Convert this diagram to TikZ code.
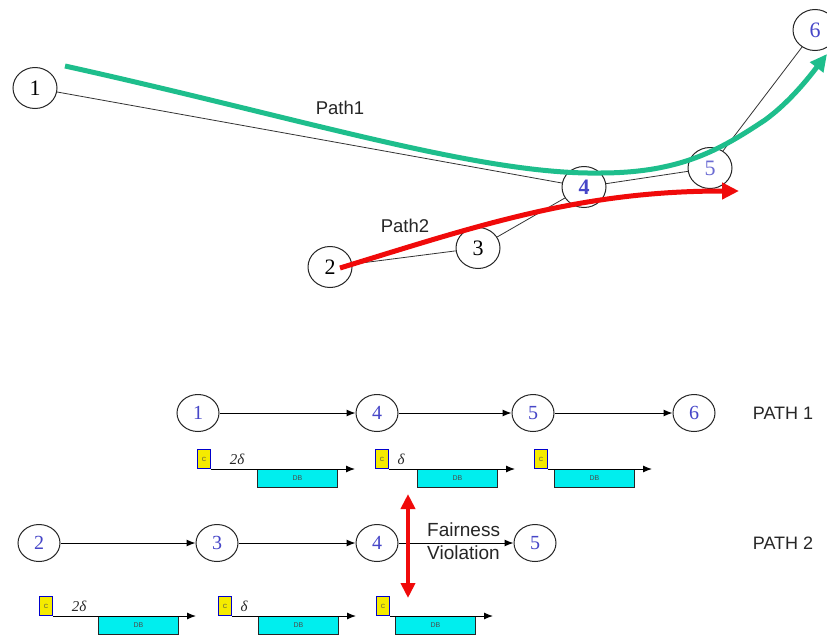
\documentclass[tikz,border=0pt]{standalone}
\usepackage{fontspec}
\setmainfont{Liberation Serif}
\setsansfont{Liberation Sans}
\usetikzlibrary{shapes.geometric,arrows.meta}
\definecolor{pathgreen}{RGB}{30,190,140}
\definecolor{nodeblue}{RGB}{70,70,200}
\definecolor{pktcyan}{RGB}{0,238,238}
\definecolor{pktyellow}{RGB}{245,235,0}
\definecolor{fvred}{RGB}{240,10,10}
\newcommand\pkt[6]{%
  \node[hdr, anchor=south west] (#1h) at (#2,#3) {C};
  \node[body, anchor=north west] (#1b) at ({#2+#4},#3) {DB};
  \coordinate (#1e) at ({#2+#4+98},#3);
  \draw[pktline] (#1h.south east) -- (#1e);
  \node[delay] (#1d) at ({#2+#6},{#3-10}) {#5};
}
\begin{document}
\begin{tikzpicture}[x=1pt,y=-1pt,
  topnode/.style={draw=black!85, ellipse, minimum width=44pt, minimum height=41pt,
    inner sep=0pt, fill=white, line width=1pt, font=\fontsize{22}{22}\selectfont},
  botnode/.style={draw=black!85, ellipse, minimum width=42pt, minimum height=37pt,
    inner sep=0pt, line width=1pt, text=nodeblue, font=\fontsize{20}{20}\selectfont},
  link/.style={draw=black!80, line width=0.8pt},
  hop/.style={draw=black, line width=1pt, -{Latex[length=9pt,width=7pt]}},
  bigpath/.style={line width=5pt, -{Triangle[length=17pt,width=16pt]}},
  pathlabel/.style={font=\sffamily\fontsize{18.5}{22}\selectfont, text=black!85, inner sep=0pt},
  rowlabel/.style={font=\sffamily\fontsize{18}{20}\selectfont, text=black!85, inner sep=0pt},
  hdr/.style={draw=blue!80!black, line width=1pt, fill=pktyellow, minimum width=13pt,
    minimum height=19pt, inner sep=0pt, font=\sffamily\fontsize{6}{6}\selectfont, text=black!70},
  body/.style={draw=black!85, line width=0.9pt, fill=pktcyan, minimum width=80pt,
    minimum height=18pt, inner sep=0pt, font=\sffamily\fontsize{7}{7}\selectfont, text=black!70},
  pktline/.style={draw=black, line width=1pt, -{Latex[length=9pt,width=7pt]}},
  delay/.style={font=\itshape\fontsize{15}{15}\selectfont, text=black!85, inner sep=0pt},
]
\clip (0,0) rectangle (827,635);
\fill[white] (0,0) rectangle (827,635);

% ---------- top topology ----------
\node[topnode] (t1) at (35,88) {1};
\node[topnode] (t2) at (330,267) {2};
\node[topnode] (t3) at (478,248) {3};
\node[topnode, text=nodeblue, font=\bfseries\fontsize{22}{22}\selectfont] (t4) at (584,187) {4};
\node[topnode, text=nodeblue!80] (t5) at (710,168) {5};
\node[topnode, text=nodeblue] (t6) at (815,30) {6};

\draw[link] (t1) -- (t4);
\draw[link] (t4) -- (t5);
\draw[link] (t5) -- (t6);
\draw[link] (t2) -- (t3);
\draw[link] (t3) -- (t4);

\node[pathlabel] (p1lab) at (340,108) {Path1};
\node[pathlabel] (p2lab) at (405,226) {Path2};

\coordinate (gstart) at (65,66);
\coordinate (gmid) at (600,173);
\coordinate (gbend) at (765,120);
\coordinate (gend) at (827,54);
\draw[bigpath, draw=pathgreen]
  (gstart) .. controls (300,118) and (480,175) .. (gmid)
  .. controls (680,173) and (720,150) .. (gbend)
  .. controls (790,102) and (810,76) .. (gend);

\coordinate (rstart) at (340,268);
\coordinate (rend) at (739,191);
\draw[bigpath, draw=fvred]
  (rstart) .. controls (480,225) and (580,191) .. (rend);

% ---------- PATH 1 row ----------
\node[botnode] (a1) at (198,413) {1};
\node[botnode] (a4) at (377,413) {4};
\node[botnode] (a5) at (533,413) {5};
\node[botnode] (a6) at (694,413) {6};
\draw[hop] (a1) -- (a4);
\draw[hop] (a4) -- (a5);
\draw[hop] (a5) -- (a6);
\node[rowlabel] (r1lab) at (783,413) {PATH 1};

\pkt{pa}{197}{469}{60}{2δ}{40}
\pkt{pb}{375}{469}{42}{δ}{26}
\pkt{pc}{534}{469}{20}{}{25}

% ---------- PATH 2 row ----------
\node[botnode] (b2) at (39,543) {2};
\node[botnode] (b3) at (217,543) {3};
\node[botnode] (b4) at (377,543) {4};
\node[botnode] (b5) at (535,543) {5};
\draw[hop] (b2) -- (b3);
\draw[hop] (b3) -- (b4);
\draw[hop] (b4) -- (b5);
\node[rowlabel] (r2lab) at (783,543) {PATH 2};

\node[font=\sffamily\fontsize{19}{23}\selectfont, text=black!85, align=left,
  inner sep=0pt, anchor=west] (fv) at (427,541) {Fairness\\Violation};

\pkt{qa}{39}{616}{59}{2δ}{40}
\pkt{qb}{218}{616}{40}{δ}{26}
\pkt{qc}{376}{616}{19}{}{25}

\coordinate (fvtop) at (408,494);
\coordinate (fvbot) at (408,598);
\draw[fvred, line width=4pt, {Triangle[length=15pt,width=14pt]}-{Triangle[length=15pt,width=14pt]}]
  (fvtop) -- (fvbot);
\end{tikzpicture}
\end{document}
